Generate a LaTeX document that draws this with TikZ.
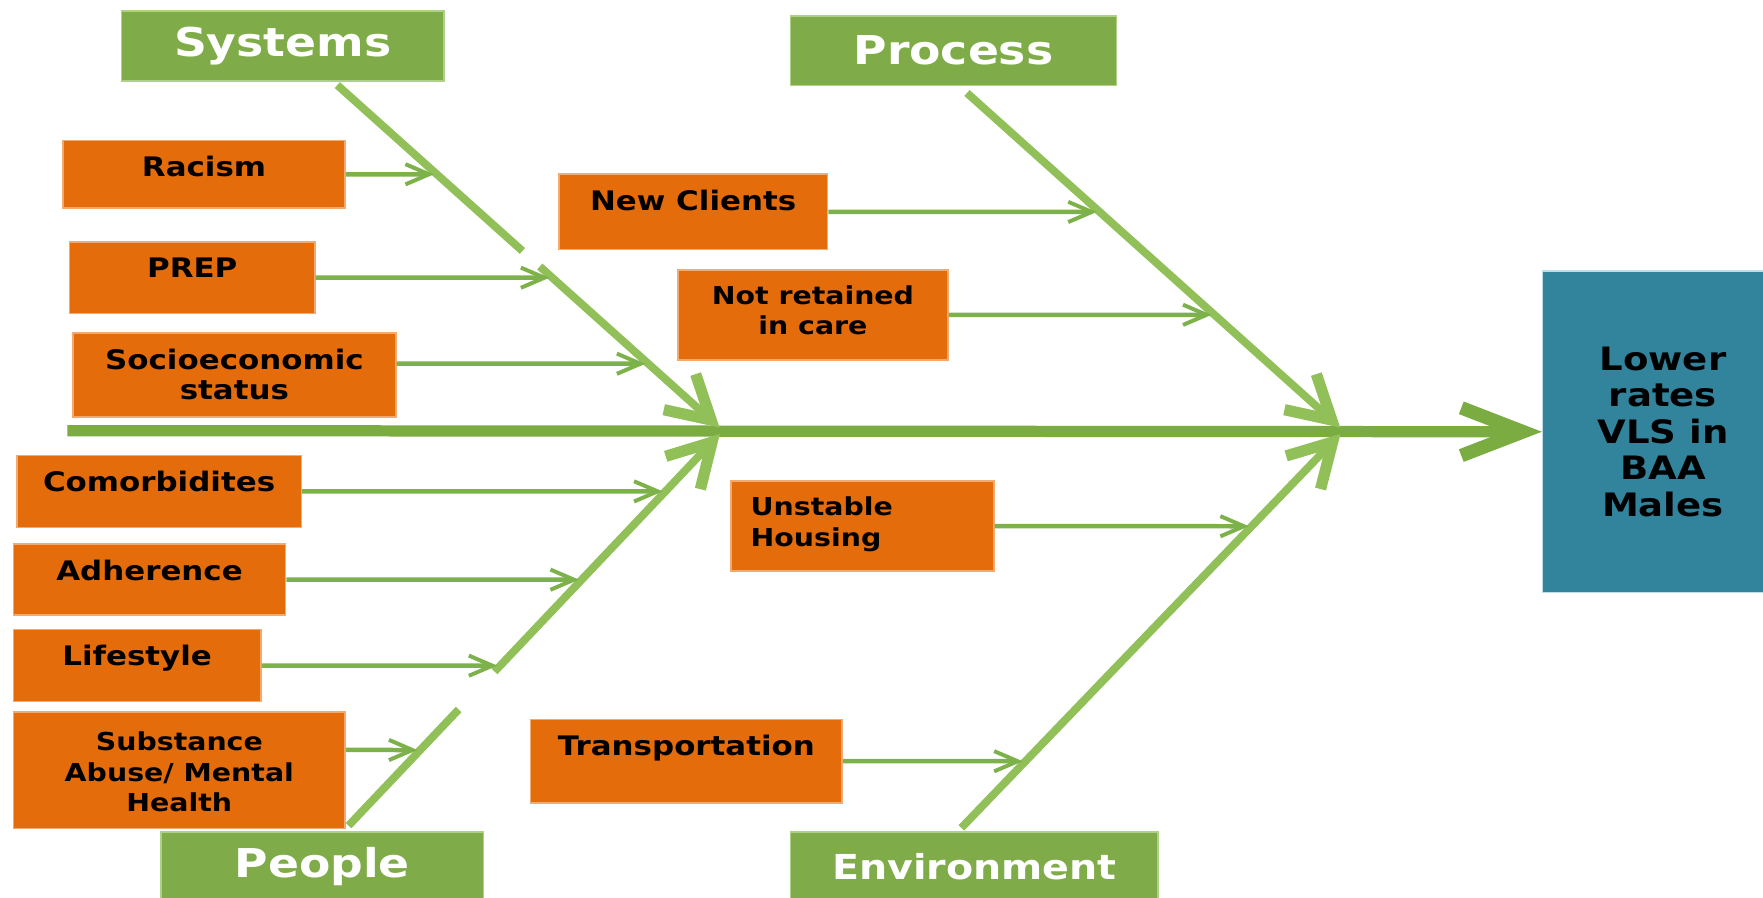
\documentclass[tikz,border=0pt]{standalone}
\usepackage{fontspec}
\usetikzlibrary{arrows.meta,calc}
\newfontfamily\fishfont{DejaVu Sans}[FakeStretch=1.15]

\definecolor{causeorange}{RGB}{228,108,10}
\definecolor{causeedge}{RGB}{243,170,110}
\definecolor{catgreen}{RGB}{127,172,72}
\definecolor{catedge}{RGB}{175,208,135}
\definecolor{effectteal}{RGB}{49,132,155}
\definecolor{effectedge}{RGB}{190,222,232}
\definecolor{bonegreen}{RGB}{145,192,88}
\definecolor{spinegreen}{RGB}{122,172,66}
\definecolor{arrowgreen}{RGB}{125,178,75}

\tikzset{
  catbox/.style={rectangle, fill=catgreen, draw=catedge, line width=0.8pt, text=white, inner sep=0pt,
    font=\fishfont\bfseries\fontsize{20.1}{24}\selectfont},
  causebox/.style={rectangle, fill=causeorange, draw=causeedge, line width=0.8pt, inner sep=0pt},
  causetext/.style={font=\fishfont\bfseries\fontsize{13.6}{15.3}\selectfont, align=center, inner sep=0pt,
    anchor=north, yshift=-2.9mm},
  smalltext/.style={causetext, font=\fishfont\bfseries\fontsize{12.5}{15.3}\selectfont},
  effectbox/.style={rectangle, fill=effectteal, draw=effectedge, line width=0.8pt, inner sep=0pt, align=center,
    font=\fishfont\bfseries\fontsize{16.3}{18.5}\selectfont},
  spine/.style={draw=spinegreen, line width=0.2cm, -{Straight Barb[length=1.1cm,width=0.85cm,line width=0.24cm]}},
  bone/.style={draw=bonegreen, line width=0.14cm},
  bonehead/.style={-{Straight Barb[length=0.75cm,width=0.85cm,line width=0.2cm]}, shorten >=0.8mm},
  causearrow/.style={draw=arrowgreen, line width=0.08cm, -{Straight Barb[length=0.42cm,width=0.36cm,line width=0.07cm]}, shorten >=0.5mm}
}

\begin{document}
\begin{tikzpicture}[x=0.2mm, y=-0.2mm]
	%%%%% START %%%%%
	\useasboundingbox (0,0) rectangle (1568,798);
	
	% categories
	\node[catbox, minimum width=5.74cm, minimum height=1.24cm] (systems) at (251.5,41) {Systems};
	\node[catbox, minimum width=5.80cm, minimum height=1.24cm] (process) at (848,45) {Process};
	\node[catbox, minimum width=5.74cm, minimum height=1.24cm] (people) at (286.5,771) {People};
	\node[catbox, minimum width=6.54cm, minimum height=1.24cm, font=\fishfont\bfseries\fontsize{17.4}{21}\selectfont] (environment) at (866.5,771) {Environment};
	
	% effect
	\node[effectbox, minimum width=4.28cm, minimum height=5.72cm] (effect) at (1479,384) {Lower\\rates\\VLS in\\BAA\\Males};
	
	% causes
	\node[causebox, minimum width=5.02cm, minimum height=1.20cm] (racism) at (181.5,155) {};
	\node[causebox, minimum width=4.36cm, minimum height=1.28cm] (prep) at (171,247) {};
	\node[causebox, minimum width=5.74cm, minimum height=1.50cm] (socio) at (208.5,333.5) {};
	\node[causebox, minimum width=4.78cm, minimum height=1.34cm] (newclients) at (616.5,188.5) {};
	\node[causebox, minimum width=4.80cm, minimum height=1.60cm] (notretained) at (723,280) {};
	\node[causebox, minimum width=5.06cm, minimum height=1.28cm] (comorb) at (141.5,437) {};
	\node[causebox, minimum width=4.84cm, minimum height=1.26cm] (adherence) at (133,515.5) {};
	\node[causebox, minimum width=4.40cm, minimum height=1.28cm] (lifestyle) at (122,592) {};
	\node[causebox, minimum width=5.90cm, minimum height=2.08cm] (subst) at (159.5,685) {};
	\node[causebox, minimum width=4.68cm, minimum height=1.60cm] (housing) at (767,468) {};
	\node[causebox, minimum width=5.54cm, minimum height=1.48cm] (transport) at (610.5,677) {};
	
	\node[causetext] (racismtxt) at (racism.north) {Racism};
	\node[causetext] (preptxt) at (prep.north) {PREP};
	\node[causetext] (sociotxt) at (socio.north) {Socioeconomic\\status};
	\node[causetext] (newclientstxt) at (newclients.north) {New Clients};
	\node[smalltext] (notretainedtxt) at (notretained.north) {Not retained\\in care};
	\node[causetext] (comorbtxt) at (comorb.north) {Comorbidites};
	\node[causetext] (adherencetxt) at (adherence.north) {Adherence};
	\node[causetext] (lifestyletxt) at (lifestyle.north) {Lifestyle};
	\node[smalltext, yshift=-0.8mm] (substtxt) at (subst.north) {Substance\\Abuse/ Mental\\Health};
	\node[smalltext, align=left, anchor=north west, xshift=3.6mm] (housingtxt) at (housing.north west) {Unstable\\Housing};
	\node[causetext] (transporttxt) at (transport.north) {Transportation};
	
	% spine and bones
	\coordinate (tail) at (60,383);
	\coordinate (hubL) at (643,383);
	\coordinate (hubR) at (1195,383);
	\coordinate (sysStart) at ($(systems.south)+(48.5,3)$);
	\coordinate (procStart) at ($(process.south)+(12,6)$);
	\coordinate (pplStart) at ($(people.north)+(23.5,-5)$);
	\coordinate (envStart) at ($(environment.north)+(-11.5,-3)$);
	
	\draw[spine] (tail) -- (effect.west);
	
	\draw[bone] (sysStart) -- ($(sysStart)!0.48!(hubL)$);
	\draw[bone, bonehead] ($(sysStart)!0.525!(hubL)$) -- (hubL);
	\draw[bone, bonehead] (procStart) -- (hubR);
	\draw[bone] (pplStart) -- ($(pplStart)!0.294!(hubL)$);
	\draw[bone, bonehead] ($(pplStart)!0.39!(hubL)$) -- (hubL);
	\draw[bone, bonehead] (envStart) -- (hubR);
	
	% cause arrows
	\coordinate (socioOut) at ([yshift=2mm]socio.east);
	\coordinate (substOut) at ([yshift=3.6mm]subst.east);
	
	\draw[causearrow] (racism.east) -- (intersection of sysStart--hubL and racism.east--racism.east -| effect.west);
	\draw[causearrow] (prep.east) -- (intersection of sysStart--hubL and prep.east--prep.east -| effect.west);
	\draw[causearrow] (socioOut) -- (intersection of sysStart--hubL and socioOut--socioOut -| effect.west);
	\draw[causearrow] (newclients.east) -- (intersection of procStart--hubR and newclients.east--newclients.east -| effect.west);
	\draw[causearrow] (notretained.east) -- (intersection of procStart--hubR and notretained.east--notretained.east -| effect.west);
	\draw[causearrow] (comorb.east) -- (intersection of pplStart--hubL and comorb.east--comorb.east -| effect.west);
	\draw[causearrow] (adherence.east) -- (intersection of pplStart--hubL and adherence.east--adherence.east -| effect.west);
	\draw[causearrow] (lifestyle.east) -- (intersection of pplStart--hubL and lifestyle.east--lifestyle.east -| effect.west);
	\draw[causearrow] (substOut) -- (intersection of pplStart--hubL and substOut--substOut -| effect.west);
	\draw[causearrow] (housing.east) -- (intersection of envStart--hubR and housing.east--housing.east -| effect.west);
	\draw[causearrow] (transport.east) -- (intersection of envStart--hubR and transport.east--transport.east -| effect.west);
	
	%%%%% END %%%%%
\end{tikzpicture}
\end{document}
